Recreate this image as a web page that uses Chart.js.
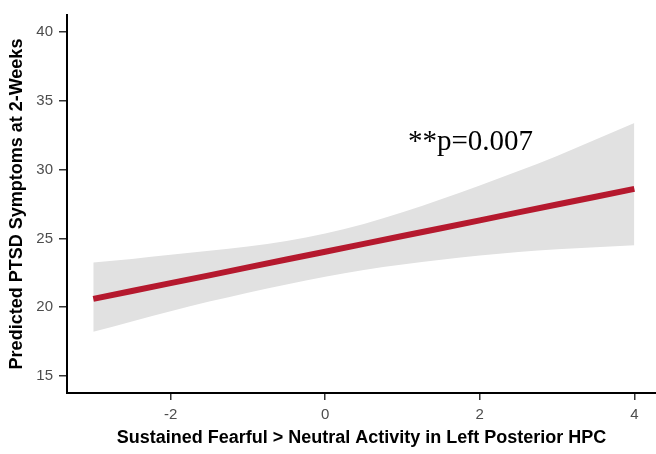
<!DOCTYPE html>
<html>
<head>
<meta charset="utf-8">
<script src="https://cdn.jsdelivr.net/npm/chart.js@4.4.1/dist/chart.umd.min.js"></script>
<style>
  body { margin: 0; background: #fff; }
  canvas { display: block; }
</style>
</head>
<body>
<canvas id="chart" width="656" height="454"></canvas>
<script>
// predictor values (x) and the fitted line with its confidence band
const activity = [-3, -2.5, -2, -1.5, -1, -0.5, 0, 0.5, 1, 1.5, 2, 2.5, 3, 3.5, 4];
const predicted = [20.6, 21.17, 21.74, 22.31, 22.89, 23.46, 24.03, 24.6, 25.17, 25.74, 26.31, 26.89, 27.46, 28.03, 28.6];
const upperCI = [23.25, 23.5, 23.8, 24.1, 24.4, 24.8, 25.35, 26.05, 26.9, 27.85, 28.85, 29.9, 31.0, 32.2, 33.4];
const lowerCI = [18.2, 18.95, 19.7, 20.4, 21.05, 21.65, 22.2, 22.7, 23.1, 23.45, 23.75, 24.0, 24.2, 24.35, 24.5];

const xTicks = [-2, 0, 2, 4];
const yTicks = [15, 20, 25, 30, 35, 40];

const pLabel = '**p=0.007';

const toPoints = (ys) => ys.map((y, i) => ({ x: activity[i], y }));

// draws the p-value note inside the plot
const pValuePlugin = {
  id: 'pValue',
  afterDatasetsDraw(chart) {
    const { ctx, scales } = chart;
    ctx.save();
    ctx.font = '29px "Liberation Serif", "Times New Roman", serif';
    ctx.fillStyle = '#000';
    ctx.textAlign = 'center';
    ctx.textBaseline = 'alphabetic';
    ctx.fillText(pLabel, scales.x.getPixelForValue(1.88), scales.y.getPixelForValue(31.43));
    ctx.restore();
  }
};

const ctx = document.getElementById('chart').getContext('2d');
new Chart(ctx, {
  type: 'line',
  data: {
    datasets: [
      {
        label: 'fit',
        data: toPoints(predicted),
        borderColor: '#b5192e',
        borderWidth: 6,
        borderCapStyle: 'butt',
        pointRadius: 0,
        fill: false,
      },
      {
        label: 'upper',
        data: toPoints(upperCI),
        borderWidth: 0,
        pointRadius: 0,
        backgroundColor: '#e1e1e1',
        fill: '+1',
        cubicInterpolationMode: 'monotone',
      },
      {
        label: 'lower',
        data: toPoints(lowerCI),
        borderWidth: 0,
        pointRadius: 0,
        fill: false,
        cubicInterpolationMode: 'monotone',
      },
    ],
  },
  options: {
    responsive: false,
    animation: false,
    layout: { padding: { top: 6, right: 0, bottom: 0, left: 0 } },
    plugins: {
      legend: { display: false },
      tooltip: { enabled: false },
    },
    scales: {
      x: {
        type: 'linear',
        min: -3.34,
        max: 4.28,
        afterBuildTicks: (s) => { s.ticks = xTicks.map((v) => ({ value: v })); },
        afterFit: (s) => { s.height = 61; },
        border: { display: true, color: '#000', width: 2 },
        grid: { display: true, drawOnChartArea: false, drawTicks: true, tickLength: 7, color: '#333', lineWidth: 1.5 },
        ticks: {
          padding: 6,
          color: '#4d4d4d',
          font: { family: '"Liberation Sans", Arial, sans-serif', size: 15 },
          maxRotation: 0,
        },
        title: {
          display: true,
          text: 'Sustained Fearful > Neutral Activity in Left Posterior HPC',
          color: '#000',
          font: { family: '"Liberation Sans", Arial, sans-serif', size: 18, weight: 'bold' },
          padding: { top: 0, bottom: 5 },
        },
      },
      y: {
        min: 13.75,
        max: 41.25,
        afterBuildTicks: (s) => { s.ticks = yTicks.map((v) => ({ value: v })); },
        afterFit: (s) => { s.width = 67; },
        border: { display: true, color: '#000', width: 2 },
        grid: { display: true, drawOnChartArea: false, drawTicks: true, tickLength: 8, color: '#333', lineWidth: 1.5 },
        ticks: {
          padding: 6,
          color: '#4d4d4d',
          font: { family: '"Liberation Sans", Arial, sans-serif', size: 15 },
        },
        title: {
          display: true,
          text: 'Predicted PTSD Symptoms at 2-Weeks',
          color: '#000',
          font: { family: '"Liberation Sans", Arial, sans-serif', size: 18, weight: 'bold' },
          padding: { top: 6, bottom: 0 },
        },
      },
    },
  },
  plugins: [pValuePlugin],
});
</script>
</body>
</html>
